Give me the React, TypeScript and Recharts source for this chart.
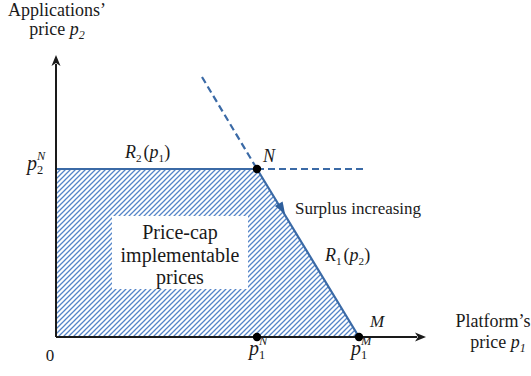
import React from "react";
import {
  ComposedChart,
  Area,
  Scatter,
  XAxis,
  YAxis,
  ReferenceLine,
  ReferenceDot,
} from "recharts";

// ── Values (price units, one unit per pixel of the plot) ──────────────────

const P1_MAX = 370;
const P2_MAX = 282;

const P1_N = 201; // Nash price of the platform
const P1_M = 303; // monopoly price of the platform
const P2_N = 168; // Nash price of applications

// boundary of the implementable region: R2(p1) then R1(p2)
const frontierP1 = [0, P1_N, P1_M];
const frontierP2 = [P2_N, P2_N, 0];

// dashed continuations of the reaction functions
const r1DashP1 = [146, P1_N];
const r1DashP2 = [260, P2_N];
const r2DashP1 = [P1_N, 311];
const r2DashP2 = [P2_N, P2_N];

// marked points: N, p1^N, p1^M
const dotP1 = [P1_N, P1_N, P1_M];
const dotP2 = [P2_N, 0, 0];

// where the "surplus increasing" arrow sits on R1
const arrowP1 = 229;
const arrowP2 = 123;

// centre of the text box
const boxP1 = 124;
const boxP2 = 85;

const region = frontierP1.map((p1, i) => ({ p1, p2: frontierP2[i] }));
const dots = dotP1.map((p1, i) => ({ p1, p2: dotP2[i] }));

// ── Styles ───────────────────────────────────────────────────────────────

const SERIF = '"Liberation Serif", "Times New Roman", serif';
const BLUE = "#3b6aa6";
const HATCH = "#5585c8";
const INK = "#1a1a1a";

const serif = (size: number, italic = false): React.CSSProperties => ({
  fontFamily: SERIF,
  fontSize: size,
  fontStyle: italic ? "italic" : "normal",
});

// ── Small drawing helpers ────────────────────────────────────────────────

function AxisArrow(props: any) {
  const { x1, y1, x2, y2 } = props;
  const len = Math.hypot(x2 - x1, y2 - y1) || 1;
  const ux = (x2 - x1) / len;
  const uy = (y2 - y1) / len;
  const hl = 11;
  const hw = 4.5;
  const bx = x2 - ux * hl;
  const by = y2 - uy * hl;
  return (
    <g>
      <line x1={x1} y1={y1} x2={bx + ux * 2} y2={by + uy * 2} stroke={INK} strokeWidth={2} />
      <polygon
        points={`${x2},${y2} ${bx - uy * hw},${by + ux * hw} ${bx + ux * 3},${by + uy * 3} ${bx + uy * hw},${by - ux * hw}`}
        fill={INK}
      />
    </g>
  );
}

function DashSeg(props: any) {
  const { x1, y1, x2, y2 } = props;
  return (
    <line x1={x1} y1={y1} x2={x2} y2={y2} stroke={BLUE} strokeWidth={2.2} strokeDasharray="7 4" />
  );
}

// p with a subscript and a stacked superscript, e.g. p1^N
function PriceSym({ x, y, sub, sup, size = 20 }: any) {
  const small = size * 0.62;
  return (
    <text x={x} y={y} style={serif(size)} fill={INK}>
      <tspan style={serif(size, true)}>p</tspan>
      <tspan style={serif(small)} dy={size * 0.22}>{sub}</tspan>
      <tspan style={serif(small, true)} dx={-small * 0.5} dy={-size * 0.72}>
        {sup}
      </tspan>
    </text>
  );
}

// R_i(p_j)
function Reaction({ x, y, i, j, size = 18 }: any) {
  const small = size * 0.62;
  return (
    <text x={x} y={y} style={serif(size)} fill={INK}>
      <tspan style={serif(size, true)}>R</tspan>
      <tspan style={serif(small)} dy={size * 0.22}>{i}</tspan>
      <tspan dx={2} dy={-size * 0.22}>(</tspan>
      <tspan style={serif(size, true)}>p</tspan>
      <tspan style={serif(small)} dy={size * 0.22}>{j}</tspan>
      <tspan dy={-size * 0.22}>)</tspan>
    </text>
  );
}

const at = (render: (cx: number, cy: number) => React.ReactNode) => (p: any) => (
  <g>{render(p.cx, p.cy)}</g>
);

// ── Component ────────────────────────────────────────────────────────────

export default function App() {
  return (
    <div
      style={{
        position: "absolute",
        left: 0,
        top: 0,
        width: 531,
        height: 376,
        background: "#fff",
        fontFamily: SERIF,
      }}
    >
      <ComposedChart
        width={531}
        height={376}
        data={region}
        margin={{ top: 55, right: 105, bottom: 39, left: 56 }}
      >
        <defs>
          <pattern id="hatch" patternUnits="userSpaceOnUse" width="5" height="5">
            <path d="M-1,1 l2,-2 M0,5 l5,-5 M4,6 l2,-2" stroke={HATCH} strokeWidth={1.3} />
          </pattern>
        </defs>

        <XAxis type="number" dataKey="p1" domain={[0, P1_MAX]} hide />
        <YAxis type="number" dataKey="p2" domain={[0, P2_MAX]} hide />

        <Area
          type="linear"
          dataKey="p2"
          stroke={BLUE}
          strokeWidth={2.2}
          fill="url(#hatch)"
          fillOpacity={1}
          isAnimationActive={false}
          dot={false}
          activeDot={false}
        />

        <ReferenceLine
          segment={[{ x: r1DashP1[0], y: r1DashP2[0] }, { x: r1DashP1[1], y: r1DashP2[1] }]}
          shape={DashSeg}
        />
        <ReferenceLine
          segment={[{ x: r2DashP1[0], y: r2DashP2[0] }, { x: r2DashP1[1], y: r2DashP2[1] }]}
          shape={DashSeg}
        />

        {/* axes with arrow heads */}
        <ReferenceLine segment={[{ x: 0, y: 0 }, { x: 0, y: P2_MAX }]} shape={AxisArrow} />
        <ReferenceLine segment={[{ x: 0, y: 0 }, { x: P1_MAX, y: 0 }]} shape={AxisArrow} />

        <Scatter
          data={dots}
          fill="#000"
          isAnimationActive={false}
          shape={(p: any) => <circle cx={p.cx} cy={p.cy} r={4.2} fill="#000" />}
        />

        {/* surplus arrow head along R1 */}
        <ReferenceDot
          x={arrowP1}
          y={arrowP2}
          r={0}
          shape={at((cx, cy) => {
            const dx = P1_M - P1_N;
            const dy = P2_N;
            const l = Math.hypot(dx, dy);
            const ux = dx / l;
            const uy = dy / l;
            const hl = 12;
            const hw = 4.5;
            const bx = cx - ux * hl;
            const by = cy - uy * hl;
            return (
              <polygon
                points={`${cx},${cy} ${bx - uy * hw},${by + ux * hw} ${bx + uy * hw},${by - ux * hw}`}
                fill="#2f5f9c"
              />
            );
          })}
        />

        {/* text box inside the region */}
        <ReferenceDot
          x={boxP1}
          y={boxP2}
          r={0}
          shape={at((cx, cy) => (
            <g fill={INK} textAnchor="middle">
              <rect x={cx - 68} y={cy - 36} width={136} height={73} fill="#fff" />
              <text x={cx} y={cy - 13} style={serif(20)}>Price-cap</text>
              <text x={cx} y={cy + 10} style={serif(20)}>implementable</text>
              <text x={cx} y={cy + 32} style={serif(20)}>prices</text>
            </g>
          ))}
        />

        {/* labels */}
        <ReferenceDot
          x={0}
          y={P2_MAX}
          r={0}
          shape={at((cx, cy) => (
            <g fill={INK} textAnchor="middle">
              <text x={cx + 1} y={cy - 39} style={serif(18)}>Applications’</text>
              <text x={cx + 1} y={cy - 20} style={serif(18)}>
                price <tspan style={serif(18, true)}>p</tspan>
                <tspan style={serif(12, true)} dy={4}>2</tspan>
              </text>
            </g>
          ))}
        />
        <ReferenceDot
          x={P1_MAX}
          y={0}
          r={0}
          shape={at((cx, cy) => (
            <g fill={INK} textAnchor="middle">
              <text x={cx + 67} y={cy - 10} style={serif(18)}>Platform’s</text>
              <text x={cx + 72} y={cy + 11} style={serif(18)}>
                price <tspan style={serif(18, true)}>p</tspan>
                <tspan style={serif(12, true)} dy={4}>1</tspan>
              </text>
            </g>
          ))}
        />
        <ReferenceDot
          x={0}
          y={0}
          r={0}
          shape={at((cx, cy) => (
            <text x={cx - 6} y={cy + 24} style={serif(17)} fill={INK} textAnchor="middle">
              0
            </text>
          ))}
        />
        <ReferenceDot
          x={P1_N}
          y={0}
          r={0}
          shape={at((cx, cy) => <PriceSym x={cx - 8} y={cy + 18} sub="1" sup="N" />)}
        />
        <ReferenceDot
          x={P1_M}
          y={0}
          r={0}
          shape={at((cx, cy) => <PriceSym x={cx - 8} y={cy + 18} sub="1" sup="M" />)}
        />
        <ReferenceDot
          x={0}
          y={P2_N}
          r={0}
          shape={at((cx, cy) => <PriceSym x={cx - 29} y={cy + 1} sub="2" sup="N" />)}
        />
        <ReferenceDot
          x={P1_N}
          y={P2_N}
          r={0}
          shape={at((cx, cy) => (
            <text x={cx + 6} y={cy - 7} style={serif(18, true)} fill={INK}>
              N
            </text>
          ))}
        />
        <ReferenceDot
          x={P1_M}
          y={0}
          r={0}
          shape={at((cx, cy) => (
            <text x={cx + 11} y={cy - 10} style={serif(17, true)} fill={INK}>
              M
            </text>
          ))}
        />
        <ReferenceDot
          x={70}
          y={P2_N}
          r={0}
          shape={at((cx, cy) => <Reaction x={cx - 1} y={cy - 11} i="2" j="1" />)}
        />
        <ReferenceDot
          x={257}
          y={76}
          r={0}
          shape={at((cx, cy) => <Reaction x={cx + 12} y={cy} i="1" j="2" />)}
        />
        <ReferenceDot
          x={arrowP1}
          y={arrowP2}
          r={0}
          shape={at((cx, cy) => (
            <text x={cx + 10} y={cy} style={serif(17)} fill={INK}>
              Surplus increasing
            </text>
          ))}
        />
      </ComposedChart>
    </div>
  );
}
